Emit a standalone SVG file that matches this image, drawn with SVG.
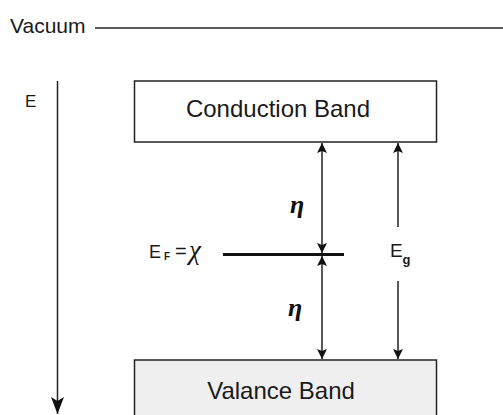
<svg xmlns="http://www.w3.org/2000/svg" width="503" height="415" viewBox="0 0 503 415">
<defs>
<style>
.t{font-family:"Liberation Sans",Arial,sans-serif;fill:#1a1a1a}
.g{font-family:"Liberation Serif","Times New Roman",serif;font-style:italic;fill:#111}
.ln{stroke:#222;stroke-width:1.5;fill:none}
.box{stroke:#222;stroke-width:1.5}
</style>
<marker id="ah" markerUnits="userSpaceOnUse" markerWidth="10" markerHeight="11" refX="10" refY="5" orient="auto-start-reverse" viewBox="0 0 10 10">
<path d="M0,0 L10,5 L0,10 L2,5 Z" fill="#111"/>
</marker>
<marker id="bh" markerUnits="userSpaceOnUse" markerWidth="17" markerHeight="13" refX="17" refY="6.5" orient="auto" viewBox="0 0 17 13">
<path d="M0,0 L17,6.5 L0,13 L4,6.5 Z" fill="#111"/>
</marker>
</defs>
<rect width="503" height="415" fill="#fff"/>
<g id="vacuum">
<text class="t" x="10" y="33" font-size="21">Vacuum</text>
<line class="ln" x1="95" y1="28" x2="503" y2="28"/>
</g>
<g id="energy-axis">
<text class="t" x="25" y="107" font-size="17">E</text>
</g>
<g id="conduction-band">
<rect class="box" x="134.5" y="81" width="302" height="61" fill="#fff"/>
<text class="t" x="278" y="117" font-size="24" text-anchor="middle">Conduction Band</text>
</g>
<g id="valence-band">
<rect class="box" x="134.5" y="360" width="302" height="70" fill="#efefef"/>
<text class="t" x="281" y="399" font-size="24" text-anchor="middle">Valance Band</text>
</g>
<g id="fermi-level">
<text class="t" x="149" y="258" font-size="18">E</text>
<text class="t" x="164" y="260" font-size="10" font-weight="bold">F</text>
<text class="t" x="175" y="258" font-size="20">=</text>
<text class="g" x="189" y="259" font-size="27">χ</text>
<line x1="223" y1="254.5" x2="344" y2="254.5" stroke="#111" stroke-width="3"/>
</g>
<g id="eta-upper"><text class="g" x="290" y="213" font-size="26" font-weight="bold">η</text></g>
<g id="eta-lower"><text class="g" x="288" y="316" font-size="26" font-weight="bold">η</text></g>
<g id="eg-label">
<text class="t" x="390" y="257" font-size="19">E</text>
<text class="t" x="402.5" y="264" font-size="13" font-weight="bold">g</text>
</g>
<g id="connectors">
<line class="ln" x1="57.5" y1="81" x2="57.5" y2="414" marker-end="url(#bh)"/>
<line class="ln" x1="322" y1="143" x2="322" y2="253" marker-start="url(#ah)" marker-end="url(#ah)"/>
<line class="ln" x1="322" y1="256" x2="322" y2="359" marker-start="url(#ah)" marker-end="url(#ah)"/>
<line class="ln" x1="398" y1="227" x2="398" y2="143" marker-end="url(#ah)"/>
<line class="ln" x1="398" y1="281" x2="398" y2="359" marker-end="url(#ah)"/>
</g>
</svg>
